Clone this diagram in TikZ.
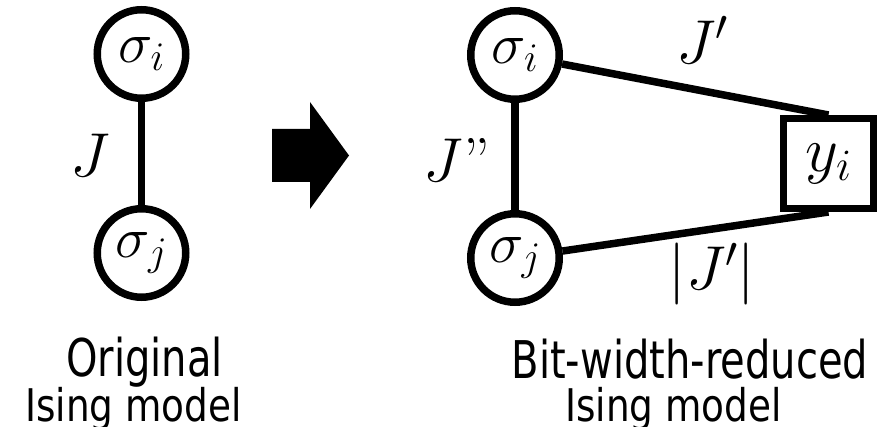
\RequirePackage{fix-cm}
\documentclass[tikz,border=0pt]{standalone}
\usepackage{fontspec}
\newfontfamily\capfont{DejaVu Sans}[FakeStretch=0.77]
\newfontfamily\capfontb{DejaVu Sans}[FakeStretch=0.83]
\begin{document}
\begin{tikzpicture}[x=1pt,y=-1pt,
  spin/.style={circle,draw,line width=7.5pt,minimum size=88.5pt,inner sep=0pt,
    font=\fontsize{58}{60}\selectfont},
  aux/.style={rectangle,draw,line width=7pt,minimum size=90pt,inner sep=0pt,
    font=\fontsize{64}{66}\selectfont},
  bond/.style={line width=7.5pt},
  wlabel/.style={inner sep=0pt,font=\fontsize{62}{64}\selectfont},
  caption/.style={anchor=base,inner sep=0pt,font=\capfont\fontsize{52}{56}\selectfont},
  captionb/.style={anchor=base,inner sep=0pt,font=\capfontb\fontsize{45}{50}\selectfont}]
\useasboundingbox (0,0) rectangle (887,427);

% original model
\node[spin] (si) at (141.5,54) {$\sigma_i$};
\node[spin] (sj) at (141.5,253) {$\sigma_j$};
\draw[bond] (si) -- (sj);
\node[wlabel] (lJ) at (90,155) {$J$};

% transformation arrow
\fill (272,129) -- (310,129) -- (310,102) -- (349,155.5) -- (310,209)
  -- (310,182) -- (272,182) -- cycle;

% reduced model with auxiliary spin
\node[spin] (ri) at (515,55) {$\sigma_i$};
\node[spin] (rj) at (515,258) {$\sigma_j$};
\node[aux] (y) at (828.5,163.5) {$y_i$};
\draw[bond] (ri) -- (rj);
\draw[bond] (ri) -- (y.north);
\draw[bond] (rj) -- (y.south);
\node[wlabel] (lJ2) at (457,160) {$J$''};
\node[wlabel] (lJp) at (702,40) {$J'$};
\node[wlabel] (lJa) at (712,274) {$|J'|$};

% captions
\node[caption] (c1) at (144.5,377) {Original};
\node[captionb] (c2) at (133.5,422) {Ising model};
\node[caption] (c3) at (690,379) {Bit-width-reduced};
\node[captionb] (c4) at (673.5,422) {Ising model};
\end{tikzpicture}
\end{document}
